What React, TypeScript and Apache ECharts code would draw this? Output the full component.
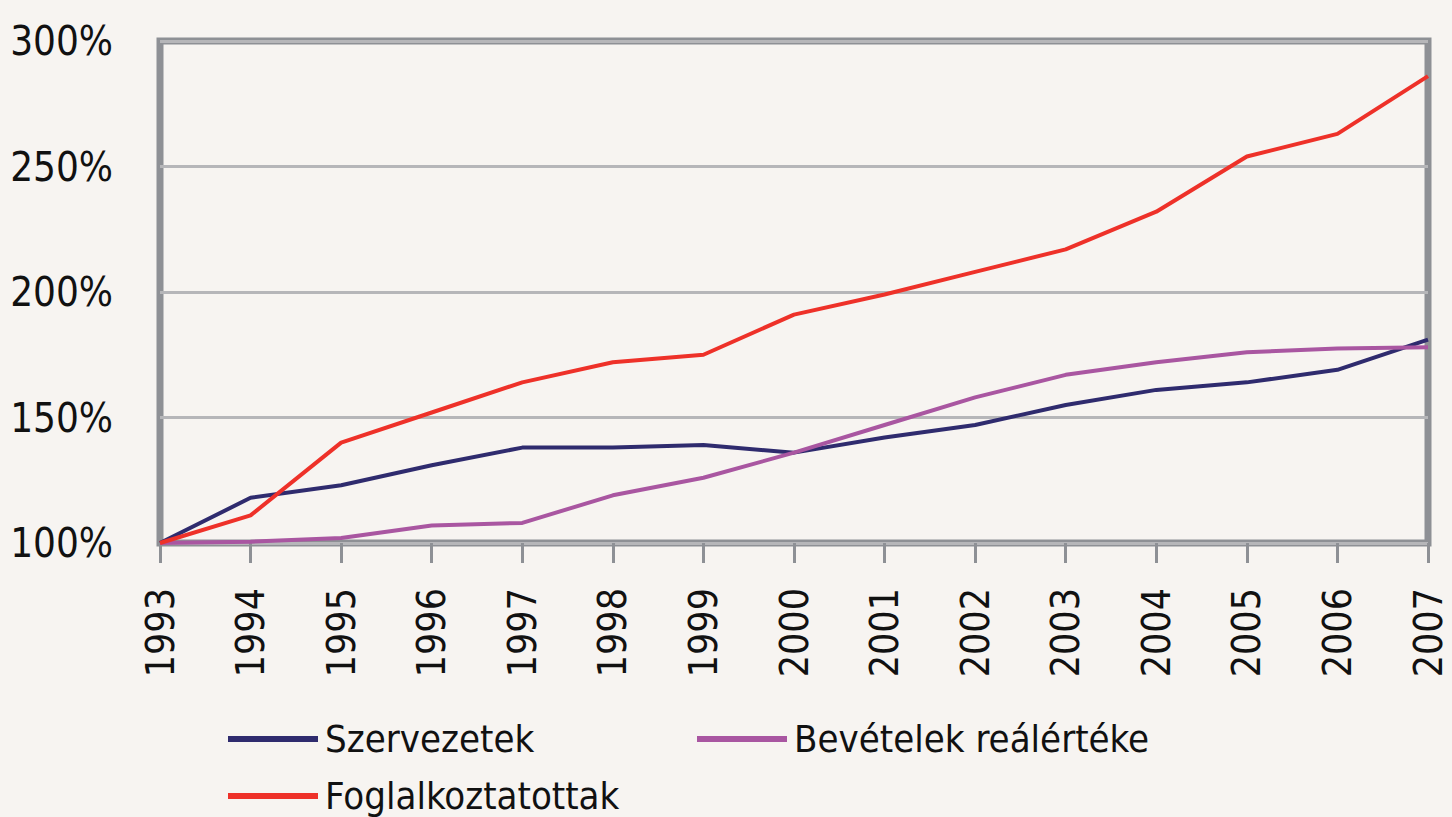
import React, { useEffect, useRef } from "react";
import * as echarts from "echarts";

const years = ["1993", "1994", "1995", "1996", "1997", "1998", "1999", "2000", "2001", "2002", "2003", "2004", "2005", "2006", "2007"];
const szervezetek = [100, 118, 123, 131, 138, 138, 139, 136, 142, 147, 155, 161, 164, 169, 181];
const bevetelek = [100, 100.5, 102, 107, 108, 119, 126, 136, 147, 158, 167, 172, 176, 177.5, 178];
const foglalkoztatottak = [100, 111, 140, 152, 164, 172, 175, 191, 199, 208, 217, 232, 254, 263, 286];
const yTicks = [100, 150, 200, 250, 300];

const FONT = "'DejaVu Sans Condensed', 'Liberation Sans Narrow', sans-serif";
const C_NAVY = "#2f2b6e";
const C_PURPLE = "#a956a1";
const C_RED = "#ee3129";

export default function App() {
  const ref = useRef<HTMLDivElement>(null);
  useEffect(() => {
    if (!ref.current) return;
    const chart = echarts.init(ref.current, null, { renderer: "svg" });
    const legendBase = {
      icon: "rect",
      itemWidth: 90,
      itemHeight: 6,
      itemGap: 0,
      padding: 0,
      textStyle: { fontFamily: FONT, fontSize: 38, color: "#111", padding: [0, 0, 0, 2] },
      selectedMode: false,
    };
    chart.setOption({
      animation: false,
      backgroundColor: "#f7f4f1",
      grid: {
        left: 160,
        right: 24,
        top: 41,
        bottom: 274,
        show: true,
        borderColor: "#8e9095",
        borderWidth: 7,
        backgroundColor: "transparent",
        outerBoundsMode: "none",
        containLabel: false,
      },
      legend: [
        { ...legendBase, data: ["Szervezetek"], left: 228, top: 720 },
        { ...legendBase, data: ["Bevételek reálértéke"], left: 697, top: 720 },
        { ...legendBase, data: ["Foglalkoztatottak"], left: 228, top: 777 },
      ],
      xAxis: {
        type: "category",
        data: years,
        boundaryGap: false,
        axisLine: { show: false },
        axisTick: { show: true, length: 20, lineStyle: { color: "#8e9095", width: 3 } },
        axisLabel: {
          rotate: 90,
          margin: 45,
          fontFamily: FONT,
          fontSize: 39,
          lineHeight: 30,
          color: "#111",
          interval: 0,
        },
        splitLine: { show: false },
      },
      yAxis: {
        type: "value",
        min: 100,
        max: 300,
        interval: 50,
        axisLine: { show: false },
        axisTick: { show: false },
        axisLabel: {
          margin: 47,
          fontFamily: FONT,
          fontSize: 40,
          color: "#111",
          formatter: (v: number) => (yTicks.includes(v) ? v + "%" : ""),
        },
        splitLine: { show: true, lineStyle: { color: "#b6b6b9", width: 3 } },
      },
      series: [
        {
          name: "Szervezetek",
          type: "line",
          data: szervezetek,
          symbol: "none",
          lineStyle: { color: C_NAVY, width: 4 },
          itemStyle: { color: C_NAVY },
          z: 3,
        },
        {
          name: "Bevételek reálértéke",
          type: "line",
          data: bevetelek,
          symbol: "none",
          lineStyle: { color: C_PURPLE, width: 4 },
          itemStyle: { color: C_PURPLE },
          z: 3,
        },
        {
          name: "Foglalkoztatottak",
          type: "line",
          data: foglalkoztatottak,
          symbol: "none",
          lineStyle: { color: C_RED, width: 4 },
          itemStyle: { color: C_RED },
          z: 4,
        },
      ],
    });
    return () => chart.dispose();
  }, []);
  return (
    <div
      ref={ref}
      style={{ position: "fixed", left: 0, top: 0, width: 1452, height: 817 }}
    />
  );
}
